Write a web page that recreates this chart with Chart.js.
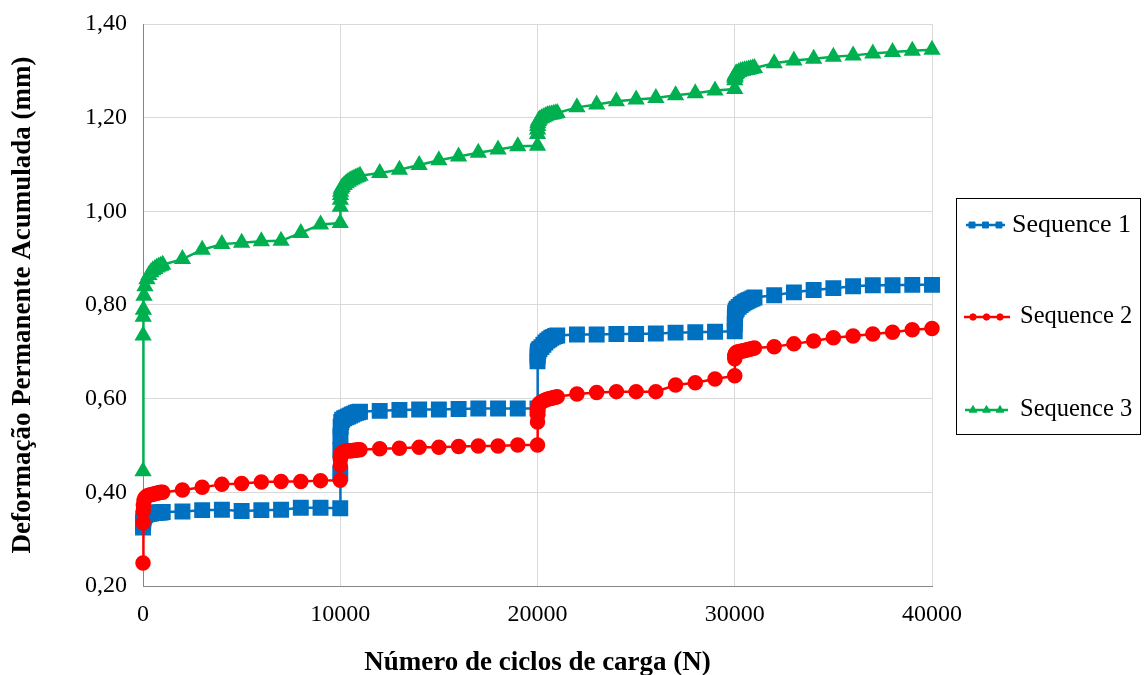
<!DOCTYPE html>
<html>
<head>
<meta charset="utf-8">
<script src="https://cdn.jsdelivr.net/npm/chart.js@4.4.1/dist/chart.umd.min.js"></script>
<style>
  html, body { margin: 0; padding: 0; background: #ffffff; }
  #wrap { width: 1145px; height: 675px; }
</style>
</head>
<body>
<div id="wrap"><canvas id="chart" width="1145" height="675"></canvas></div>
<script>
// Load cycles (N) shared by the three test sequences
const cycles = [
  1, 5, 10, 20, 50, 100, 200, 300, 400, 500, 600, 700, 800, 900, 1000,
  2000, 3000, 4000, 5000, 6000, 7000, 8000, 9000, 10000,
  10001, 10005, 10010, 10020, 10050, 10100, 10200, 10300, 10400, 10500, 10600, 10700, 10800, 10900, 11000,
  12000, 13000, 14000, 15000, 16000, 17000, 18000, 19000, 20000,
  20001, 20005, 20010, 20020, 20050, 20100, 20200, 20300, 20400, 20500, 20600, 20700, 20800, 20900, 21000,
  22000, 23000, 24000, 25000, 26000, 27000, 28000, 29000, 30000,
  30001, 30005, 30010, 30020, 30050, 30100, 30200, 30300, 30400, 30500, 30600, 30700, 30800, 30900, 31000,
  32000, 33000, 34000, 35000, 36000, 37000, 38000, 39000, 40000
];

// Accumulated permanent deformation (mm)
const sequence1 = [
  0.325, 0.333, 0.338, 0.343, 0.348, 0.351, 0.353, 0.354, 0.355, 0.356, 0.356, 0.357, 0.357, 0.357, 0.358,
  0.359, 0.362, 0.363, 0.360, 0.362, 0.363, 0.367, 0.367, 0.366,
  0.440, 0.490, 0.520, 0.540, 0.550, 0.555, 0.558, 0.560, 0.562, 0.564, 0.566, 0.568, 0.570, 0.571, 0.572,
  0.574, 0.576, 0.577, 0.577, 0.578, 0.579, 0.579, 0.579, 0.579,
  0.680, 0.690, 0.695, 0.700, 0.703, 0.706, 0.710, 0.715, 0.720, 0.724, 0.727, 0.730, 0.732, 0.734, 0.735,
  0.737, 0.737, 0.738, 0.738, 0.739, 0.741, 0.742, 0.743, 0.744,
  0.760, 0.772, 0.778, 0.783, 0.788, 0.792, 0.796, 0.800, 0.803, 0.806, 0.808, 0.810, 0.812, 0.814, 0.816,
  0.821, 0.827, 0.832, 0.836, 0.840, 0.842, 0.842, 0.843, 0.843
];

const sequence2 = [
  0.249, 0.335, 0.360, 0.372, 0.382, 0.388, 0.392, 0.394, 0.395, 0.396, 0.397, 0.398, 0.399, 0.400, 0.400,
  0.405, 0.411, 0.417, 0.419, 0.422, 0.423, 0.423, 0.425, 0.426,
  0.458, 0.470, 0.476, 0.480, 0.483, 0.485, 0.487, 0.488, 0.488, 0.489, 0.489, 0.490, 0.490, 0.491, 0.491,
  0.493, 0.494, 0.496, 0.496, 0.498, 0.499, 0.499, 0.501, 0.501,
  0.550, 0.565, 0.575, 0.582, 0.587, 0.590, 0.593, 0.595, 0.597, 0.599, 0.600, 0.601, 0.602, 0.603, 0.604,
  0.610, 0.613, 0.615, 0.615, 0.615, 0.629, 0.634, 0.642, 0.649,
  0.685, 0.690, 0.693, 0.695, 0.697, 0.699, 0.700, 0.701, 0.702, 0.703, 0.704, 0.705, 0.706, 0.707, 0.708,
  0.711, 0.717, 0.723, 0.730, 0.734, 0.738, 0.742, 0.747, 0.750
];

const sequence3 = [
  0.445, 0.735, 0.775, 0.790, 0.820, 0.840, 0.855, 0.864, 0.870, 0.874, 0.877, 0.880, 0.882, 0.884, 0.886,
  0.898, 0.918, 0.930, 0.933, 0.936, 0.937, 0.954, 0.972, 0.975,
  1.010, 1.025, 1.035, 1.042, 1.048, 1.052, 1.056, 1.060, 1.063, 1.066, 1.068, 1.070, 1.072, 1.074, 1.076,
  1.082, 1.089, 1.099, 1.109, 1.117, 1.125, 1.132, 1.139, 1.140,
  1.165, 1.175, 1.182, 1.188, 1.193, 1.196, 1.199, 1.201, 1.203, 1.205, 1.206, 1.207, 1.208, 1.209, 1.210,
  1.222, 1.228, 1.235, 1.239, 1.242, 1.248, 1.252, 1.258, 1.261,
  1.280, 1.285, 1.288, 1.290, 1.293, 1.295, 1.297, 1.299, 1.300, 1.301, 1.302, 1.303, 1.304, 1.305, 1.306,
  1.316, 1.322, 1.326, 1.330, 1.333, 1.337, 1.340, 1.343, 1.345
];

const seriesNames = ['Sequence 1', 'Sequence 2', 'Sequence 3'];
const xAxisTitle = 'Número de ciclos de carga (N)';
const yAxisTitle = 'Deformação Permanente Acumulada (mm)';

const SERIF = "'Liberation Serif', 'Times New Roman', Times, serif";

const toPoints = (values) => cycles.map((n, i) => ({ x: n, y: values[i] }));

// Boxed legend on the right: short line with three small markers per series
const legendRows = [
  { y: 225, textX: 1012, size: 26, markerX: [972, 985.5, 999], lineFrom: 966, lineTo: 1005 },
  { y: 317, textX: 1020, size: 24.5, markerX: [973, 986.5, 1000], lineFrom: 964, lineTo: 1010 },
  { y: 410, textX: 1020, size: 24.5, markerX: [973, 986.5, 1000], lineFrom: 965, lineTo: 1008 }
];
const legendMarkerRadius = [4.2, 3.2, 4.4];

const boxedLegend = {
  id: 'boxedLegend',
  afterDraw(chart) {
    const ctx = chart.ctx;
    ctx.save();
    ctx.strokeStyle = '#000000';
    ctx.lineWidth = 1;
    ctx.strokeRect(956.5, 198.5, 184, 236);
    chart.data.datasets.forEach((ds, i) => {
      const row = legendRows[i];
      ctx.strokeStyle = ds.borderColor;
      ctx.lineWidth = 2.5;
      ctx.beginPath();
      ctx.moveTo(row.lineFrom, row.y);
      ctx.lineTo(row.lineTo, row.y);
      ctx.stroke();
      ctx.fillStyle = ds.pointBackgroundColor;
      ctx.strokeStyle = ds.pointBorderColor;
      ctx.lineWidth = 1;
      row.markerX.forEach((mx) => {
        Chart.helpers.drawPoint(ctx, { pointStyle: ds.pointStyle, radius: legendMarkerRadius[i], borderWidth: 1, rotation: 0 }, mx, row.y);
      });
      ctx.fillStyle = '#000000';
      ctx.font = row.size + 'px ' + SERIF;
      ctx.textAlign = 'left';
      ctx.textBaseline = 'middle';
      ctx.fillText(ds.label, row.textX, row.y);
    });
    ctx.restore();
  }
};

const whiteBackground = {
  id: 'whiteBackground',
  beforeDraw(chart) {
    const ctx = chart.ctx;
    ctx.save();
    ctx.fillStyle = '#ffffff';
    ctx.fillRect(0, 0, chart.width, chart.height);
    ctx.restore();
  }
};

new Chart(document.getElementById('chart'), {
  type: 'line',
  data: {
    datasets: [
      {
        label: seriesNames[0],
        data: toPoints(sequence1),
        borderColor: '#0070C0',
        backgroundColor: '#0070C0',
        pointBackgroundColor: '#0070C0',
        pointBorderColor: '#0070C0',
        pointStyle: 'rect',
        pointRadius: 9.5,
        borderWidth: 2.5,
        clip: false,
        order: 3
      },
      {
        label: seriesNames[1],
        data: toPoints(sequence2),
        borderColor: '#FF0000',
        backgroundColor: '#FF0000',
        pointBackgroundColor: '#FF0000',
        pointBorderColor: '#FF0000',
        pointStyle: 'circle',
        pointRadius: 6.5,
        borderWidth: 2.5,
        clip: false,
        order: 2
      },
      {
        label: seriesNames[2],
        data: toPoints(sequence3),
        borderColor: '#00B050',
        backgroundColor: '#00B050',
        pointBackgroundColor: '#00B050',
        pointBorderColor: '#00B050',
        pointStyle: 'triangle',
        pointRadius: 7.5,
        borderWidth: 2.5,
        clip: false,
        order: 1
      }
    ]
  },
  options: {
    responsive: false,
    animation: false,
    devicePixelRatio: 1,
    layout: { padding: { top: 24, right: 213, bottom: 0, left: 0 } },
    elements: {
      line: { tension: 0, fill: false },
      point: { borderWidth: 1, hoverRadius: 0 }
    },
    plugins: {
      legend: { display: false },
      tooltip: { enabled: false }
    },
    scales: {
      x: {
        type: 'linear',
        min: 0,
        max: 40000,
        ticks: {
          stepSize: 10000,
          color: '#000000',
          padding: 14,
          maxRotation: 0,
          font: { family: SERIF, size: 24 },
          callback: (v) => String(v)
        },
        grid: { color: '#D9D9D9', lineWidth: 1, drawTicks: false },
        border: { display: true, color: '#868686', width: 1 },
        title: {
          display: true,
          text: xAxisTitle,
          color: '#000000',
          font: { family: SERIF, size: 27, weight: 'bold', lineHeight: 0.9 },
          padding: { top: 0, bottom: 0 }
        },
        afterFit: (scale) => { scale.height = 89; }
      },
      y: {
        type: 'linear',
        min: 0.2,
        max: 1.4,
        ticks: {
          stepSize: 0.2,
          color: '#000000',
          padding: 16,
          font: { family: SERIF, size: 24 },
          callback: (v) => v.toFixed(2).replace('.', ',')
        },
        grid: { color: '#D9D9D9', lineWidth: 1, drawTicks: false },
        border: { display: true, color: '#868686', width: 1 },
        title: {
          display: true,
          text: yAxisTitle,
          color: '#000000',
          font: { family: SERIF, size: 27, weight: 'bold' },
          padding: { top: 7, bottom: 0 }
        },
        afterFit: (scale) => {
          scale.width = 143;
          scale.paddingTop = 0;
          scale.paddingBottom = 0;
        }
      }
    }
  },
  plugins: [whiteBackground, boxedLegend]
});
</script>
</body>
</html>
